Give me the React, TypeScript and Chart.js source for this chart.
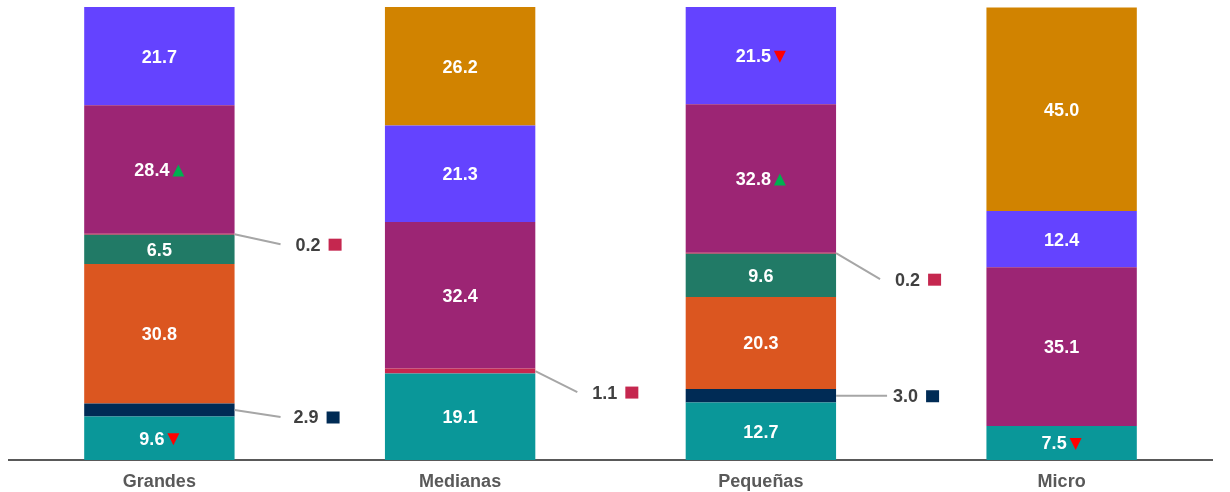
import React, { useEffect, useRef } from "react";
import { Chart, registerables } from "chart.js";

Chart.register(...registerables);

// ---- Data ----
const categories = ["Grandes", "Medianas", "Pequeñas", "Micro"];

const seriesNames = [
  "Serie 1",
  "Serie 2",
  "Serie 3",
  "Serie 4",
  "Serie 5",
  "Serie 6",
  "Serie 7",
  "Serie 8",
];

const serie1Values = [9.6, 19.1, 12.7, 7.5];
const serie2Values = [2.9, 0, 3.0, 0];
const serie3Values = [30.8, 0, 20.3, 0];
const serie4Values = [6.5, 0, 9.6, 0];
const serie5Values = [0.2, 1.1, 0.2, 0];
const serie6Values = [28.4, 32.4, 32.8, 35.1];
const serie7Values = [21.7, 21.3, 21.5, 12.4];
const serie8Values = [0, 26.2, 0, 45.0];

// trend markers shown next to the value ("up" / "down" / "")
const serie1Trend = ["down", "", "", "down"];
const serie6Trend = ["up", "", "up", ""];
const serie7Trend = ["", "", "down", ""];

// ---- Styles ----
const seriesColors = [
  "#0A9799",
  "#002B55",
  "#DB5620",
  "#217A66",
  "#C5274F",
  "#9C2574",
  "#6443FF",
  "#D18300",
];

// series whose values are shown outside with a leader line
const calloutSeries = [1, 4];
// per (series, category) callout placement: leader end dx, label dx, dy
const calloutStyle: Record<string, { leaderDx: number; labelDx: number; dy: number }> = {
  "4-0": { leaderDx: 46, labelDx: 61, dy: 10 },
  "1-0": { leaderDx: 46, labelDx: 59, dy: 7 },
  "4-1": { leaderDx: 42, labelDx: 57, dy: 21 },
  "4-2": { leaderDx: 44, labelDx: 59, dy: 26 },
  "1-2": { leaderDx: 51, labelDx: 57, dy: 0 },
};

const FONT_FAMILY = "'Liberation Sans', Arial, sans-serif";
const TEXT_DY = 1.5;

const allValues = [
  serie1Values,
  serie2Values,
  serie3Values,
  serie4Values,
  serie5Values,
  serie6Values,
  serie7Values,
  serie8Values,
];
const trends: Record<number, string[]> = { 0: serie1Trend, 5: serie6Trend, 6: serie7Trend };

const labelPlugin = {
  id: "segmentLabels",
  afterDatasetsDraw(chart: any) {
    const ctx = chart.ctx;
    ctx.save();
    ctx.font = `bold 18px ${FONT_FAMILY}`;
    ctx.textBaseline = "middle";
    chart.data.datasets.forEach((ds: any, di: number) => {
      const meta = chart.getDatasetMeta(di);
      meta.data.forEach((bar: any, j: number) => {
        const v = ds.data[j];
        if (!v) return;
        const props = bar.getProps(["x", "y", "base", "width"], true);
        const cy = (props.y + props.base) / 2;
        const text = v.toFixed(1);
        if (calloutSeries.includes(di)) {
          const st = calloutStyle[`${di}-${j}`];
          if (!st) return;
          const x0 = props.x + props.width / 2;
          const ly = cy + st.dy;
          ctx.strokeStyle = "#A6A6A6";
          ctx.lineWidth = 2;
          ctx.beginPath();
          ctx.moveTo(x0, cy);
          ctx.lineTo(x0 + st.leaderDx, ly);
          ctx.stroke();
          ctx.fillStyle = "#404040";
          ctx.textAlign = "left";
          const tx = x0 + st.labelDx;
          ctx.fillText(text, tx, ly + TEXT_DY);
          const w = ctx.measureText(text).width;
          ctx.fillStyle = seriesColors[di];
          ctx.fillRect(tx + w + 8, ly - 5.5, 13, 12);
          return;
        }
        const trend = trends[di] ? trends[di][j] : "";
        ctx.fillStyle = "#FFFFFF";
        const w = ctx.measureText(text).width;
        if (!trend) {
          ctx.textAlign = "center";
          ctx.fillText(text, props.x, cy + TEXT_DY);
          return;
        }
        const tw = 12;
        const gap = 3;
        const total = w + gap + tw;
        const sx = props.x - total / 2;
        ctx.textAlign = "left";
        ctx.fillText(text, sx, cy + TEXT_DY);
        const ax = sx + w + gap;
        const ty = cy + 1;
        ctx.beginPath();
        if (trend === "up") {
          ctx.fillStyle = "#00B050";
          ctx.moveTo(ax, ty + 6);
          ctx.lineTo(ax + tw, ty + 6);
          ctx.lineTo(ax + tw / 2, ty - 6);
        } else {
          ctx.fillStyle = "#FF0000";
          ctx.moveTo(ax, ty - 6);
          ctx.lineTo(ax + tw, ty - 6);
          ctx.lineTo(ax + tw / 2, ty + 6);
        }
        ctx.closePath();
        ctx.fill();
      });
    });
    ctx.restore();
  },
};

export default function App() {
  const canvasRef = useRef<HTMLCanvasElement | null>(null);

  useEffect(() => {
    document.body.style.margin = "0";
    const canvas = canvasRef.current;
    if (!canvas) return;
    const chart = new Chart(canvas, {
      type: "bar",
      data: {
        labels: categories,
        datasets: allValues.map((vals, i) => ({
          label: seriesNames[i],
          data: vals,
          backgroundColor: seriesColors[i],
          borderWidth: 0,
          barPercentage: 0.5,
          categoryPercentage: 1.0,
        })),
      },
      options: {
        responsive: false,
        animation: false,
        layout: { padding: { left: 9, right: 18, top: 7, bottom: 0 } },
        plugins: {
          legend: { display: false },
          tooltip: { enabled: false },
        },
        scales: {
          x: {
            stacked: true,
            grid: { display: false, drawTicks: false },
            border: { display: true, color: "#595959", width: 2 },
            ticks: {
              color: "#595959",
              font: { family: FONT_FAMILY, size: 18, weight: "bold" },
              padding: 11,
            },
            afterFit: (scale: any) => {
              scale.height = 32;
            },
          },
          y: {
            stacked: true,
            display: false,
            min: 0,
            max: 100.1,
          },
        },
      },
      plugins: [labelPlugin],
    });
    return () => chart.destroy();
  }, []);

  return (
    <div style={{ width: 1230, height: 492 }}>
      <canvas ref={canvasRef} width={1230} height={492} />
    </div>
  );
}
